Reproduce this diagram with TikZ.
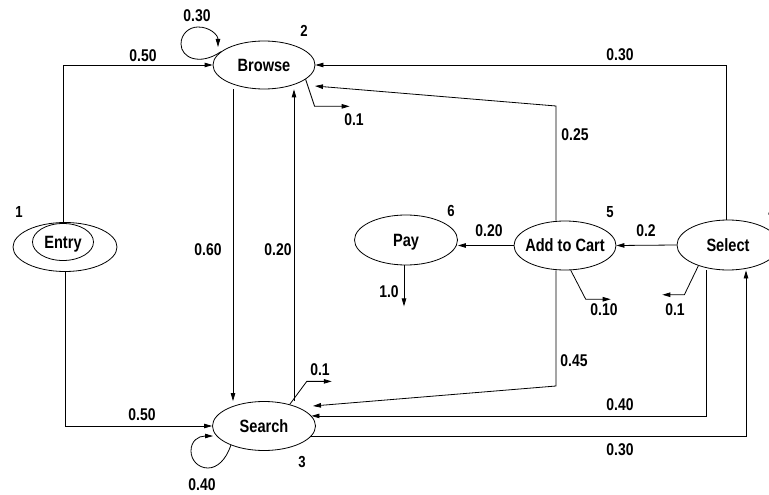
\documentclass[tikz,border=0pt]{standalone}
\usepackage{fontspec}
\setmainfont{Liberation Sans}[FakeStretch=0.82]
\usetikzlibrary{shapes.geometric,arrows.meta}
\newcommand\zbox[1]{\makebox[0pt]{#1}}
\begin{document}
\begin{tikzpicture}[x=1pt,y=-1pt,
  st/.style={ellipse,draw,line width=0.8pt,inner sep=0pt,text depth=0pt,
    font=\fontsize{17.8}{17.8}\selectfont\bfseries},
  arr/.style={line width=0.8pt,-{Triangle[length=8pt,width=4.5pt]}},
  ln/.style={line width=0.8pt},
  lab/.style={inner sep=0pt,font=\fontsize{17}{17}\selectfont\bfseries},
  num/.style={inner sep=0pt,font=\fontsize{16}{16}\selectfont\bfseries}]
\useasboundingbox (0,0) rectangle (769,495);
\clip (0,0) rectangle (769,495);

% states
\node[st,minimum width=104pt,minimum height=49pt] (entry) at (65,247) {};
\node[st,minimum width=61pt,minimum height=37pt] (entryin) at (63,242) {\zbox{Entry}};
\node[st,minimum width=102pt,minimum height=48pt] (browse) at (264,65) {\zbox{Browse}};
\node[st,minimum width=103pt,minimum height=49pt] (search) at (264,426) {\zbox{Search}};
\node[st,minimum width=103pt,minimum height=50pt] (pay) at (406,240) {\zbox{Pay}};
\node[st,minimum width=102pt,minimum height=49pt] (cart) at (565,245.5) {\zbox{Add to Cart}};
\node[st,minimum width=102pt,minimum height=50pt] (select) at (728,245) {\zbox{Select}};

% state numbers
\node[num] (n1) at (19,212) {1};
\node[num] (n2) at (304,31) {2};
\node[num] (n3) at (302,462) {3};
\node[num] (n4) at (772,212) {4};
\node[num] (n5) at (610,212) {5};
\node[num] (n6) at (451,211) {6};

% bend points and free ends
\coordinate (k25) at (556,106);
\coordinate (t25) at (315,86);
\coordinate (k45) at (556,386);
\coordinate (t45) at (313,406);

% Entry -> Browse / Search
\draw[arr] (entryin.north) |- (browse.west);
\draw[arr] (entry.south) |- (search.west);

% Browse <-> Search
\draw[arr] ([xshift=-31pt]browse.south) -- ([xshift=-31pt]search.north);
\draw[arr] ([xshift=30pt]search.north) -- ([xshift=30pt]browse.south);

% self loops
\draw[arr] (browse.163) .. controls (200,66) and (181,58) .. (181,44)
  .. controls (181,34) and (189,27) .. (198,27)
  .. controls (210,27) and (218,35) .. (218,47);
\draw[arr] (search.-150) .. controls (226,460) and (217,468) .. (208,468)
  .. controls (198,468) and (191,460) .. (191,451)
  .. controls (191,441) and (198,436) .. (213,436);

% exits
\draw[arr] (browse.-19) -- ++(9,27) -- ++(35,0);
\draw[arr] (search.40) -- ++(17,-23) -- ++(25,0);
\draw[arr] ([xshift=-2pt]pay.south) -- ++(0,41);
\draw[arr] (cart.-77) -- ++(15,29) -- ++(25,0);
\draw[arr] (select.-145) -- ++(-14,29) -- ++(-22,0);

% right side transitions
\draw[arr] (cart.west) -- (cart.west -| pay.east);
\draw[arr] (select.west) -- (cart.east);
\draw[arr] ([xshift=-9pt]cart.north) -- (k25) -- (t25);
\draw[arr] ([xshift=-2pt]select.north) |- (browse.east);
\draw[arr] ([xshift=-9pt]cart.south) -- (k45) -- (t45);
\draw[arr] ([xshift=-22pt]select.south) |- (search.12);
\draw[arr] (search.-12) -| ([xshift=18pt]select.south);

% edge labels
\node[lab] (l1) at (197,16) {0.30};
\node[lab] (l2) at (143,56) {0.50};
\node[lab] (l3) at (620,55) {0.30};
\node[lab] (l4) at (354,120) {0.1};
\node[lab] (l5) at (575,135) {0.25};
\node[lab] (l6) at (208,250) {0.60};
\node[lab] (l7) at (278,250) {0.20};
\node[lab] (l8) at (489,231) {0.20};
\node[lab] (l9) at (646,231) {0.2};
\node[lab] (l10) at (389,292) {1.0};
\node[lab] (l11) at (604,310) {0.10};
\node[lab] (l12) at (675,310) {0.1};
\node[lab] (l13) at (574,361) {0.45};
\node[lab] (l14) at (620,405) {0.40};
\node[lab] (l15) at (620,450) {0.30};
\node[lab] (l16) at (320,370) {0.1};
\node[lab] (l17) at (142,415) {0.50};
\node[lab] (l18) at (202,485) {0.40};
\end{tikzpicture}
\end{document}
